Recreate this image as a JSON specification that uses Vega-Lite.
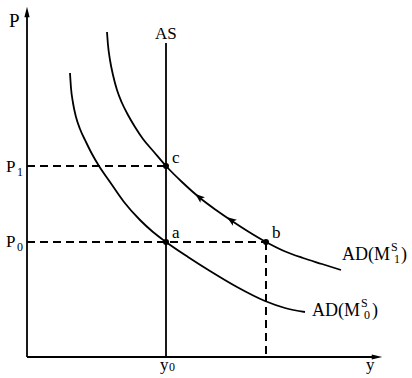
{
  "$schema": "https://vega.github.io/schema/vega-lite/v6.json",
  "width": 412,
  "height": 378,
  "padding": 0,
  "autosize": {"type": "fit", "contains": "padding"},
  "background": "white",
  "config": {"view": {"stroke": null}},
  "datasets": {
    "curves": [
      {"c": "AD1", "x": 80, "y": 325}, {"c": "AD1", "x": 81, "y": 312}, {"c": "AD1", "x": 83, "y": 297},
      {"c": "AD1", "x": 86, "y": 282}, {"c": "AD1", "x": 90, "y": 267}, {"c": "AD1", "x": 95, "y": 254},
      {"c": "AD1", "x": 101, "y": 242}, {"c": "AD1", "x": 108, "y": 230}, {"c": "AD1", "x": 116, "y": 218},
      {"c": "AD1", "x": 127, "y": 205}, {"c": "AD1", "x": 139, "y": 191}, {"c": "AD1", "x": 155, "y": 175},
      {"c": "AD1", "x": 173, "y": 159}, {"c": "AD1", "x": 189, "y": 147}, {"c": "AD1", "x": 205, "y": 136},
      {"c": "AD1", "x": 222, "y": 125}, {"c": "AD1", "x": 239, "y": 115}, {"c": "AD1", "x": 257, "y": 106},
      {"c": "AD1", "x": 276, "y": 99}, {"c": "AD1", "x": 295, "y": 93}, {"c": "AD1", "x": 314, "y": 87},
      {"c": "AD0", "x": 43, "y": 284}, {"c": "AD0", "x": 44, "y": 269}, {"c": "AD0", "x": 46, "y": 254},
      {"c": "AD0", "x": 49, "y": 240}, {"c": "AD0", "x": 53, "y": 228}, {"c": "AD0", "x": 59, "y": 215},
      {"c": "AD0", "x": 65, "y": 203}, {"c": "AD0", "x": 72, "y": 191}, {"c": "AD0", "x": 83, "y": 175},
      {"c": "AD0", "x": 97, "y": 155}, {"c": "AD0", "x": 113, "y": 137}, {"c": "AD0", "x": 126, "y": 125},
      {"c": "AD0", "x": 139, "y": 115}, {"c": "AD0", "x": 161, "y": 100}, {"c": "AD0", "x": 183, "y": 86},
      {"c": "AD0", "x": 210, "y": 70}, {"c": "AD0", "x": 238, "y": 56}, {"c": "AD0", "x": 258, "y": 49},
      {"c": "AD0", "x": 278, "y": 45}
    ],
    "solid": [
      {"x": 0, "y": 0, "x2": 0, "y2": 342},
      {"x": 0, "y": 0, "x2": 348, "y2": 0},
      {"x": 139, "y": 0, "x2": 139, "y2": 314}
    ],
    "dashed": [
      {"x": 0, "y": 191, "x2": 139, "y2": 191},
      {"x": 0, "y": 115, "x2": 239, "y2": 115},
      {"x": 239, "y": 115, "x2": 239, "y2": 0}
    ],
    "dots": [
      {"x": 139, "y": 191}, {"x": 139, "y": 115}, {"x": 239, "y": 115}
    ],
    "axisArrows": [
      {"x": 0, "y": 345, "a": 0},
      {"x": 350, "y": 0, "a": 90}
    ],
    "curveArrows": [
      {"x": 172, "y": 160, "a": 310},
      {"x": 204, "y": 137, "a": 305}
    ],
    "labels": [
      {"x": -18, "y": 330, "t": "P", "s": 19},
      {"x": 128, "y": 318, "t": "AS", "s": 17},
      {"x": -21, "y": 185, "t": "P", "s": 17},
      {"x": -10, "y": 181, "t": "1", "s": 12},
      {"x": -21, "y": 110, "t": "P", "s": 17},
      {"x": -10, "y": 106, "t": "0", "s": 12},
      {"x": 145, "y": 194, "t": "c", "s": 17},
      {"x": 145, "y": 119, "t": "a", "s": 17},
      {"x": 245, "y": 119, "t": "b", "s": 17},
      {"x": 133, "y": -13, "t": "y", "s": 17},
      {"x": 142, "y": -14, "t": "0", "s": 12},
      {"x": 339, "y": -13, "t": "y", "s": 17},
      {"x": 315, "y": 97, "t": "AD(M", "s": 18},
      {"x": 364, "y": 106, "t": "S", "s": 12},
      {"x": 367, "y": 94, "t": "1", "s": 12},
      {"x": 374, "y": 97, "t": ")", "s": 18},
      {"x": 285, "y": 41, "t": "AD(M", "s": 18},
      {"x": 334, "y": 50, "t": "S", "s": 12},
      {"x": 337, "y": 38, "t": "0", "s": 12},
      {"x": 345, "y": 41, "t": ")", "s": 18}
    ]
  },
  "encoding": {
    "x": {"field": "x", "type": "quantitative", "scale": {"domain": [-27, 385], "nice": false, "zero": false}, "axis": null},
    "y": {"field": "y", "type": "quantitative", "scale": {"domain": [-21, 357], "nice": false, "zero": false}, "axis": null}
  },
  "layer": [
    {
      "data": {"name": "curves"},
      "mark": {"type": "line", "color": "black", "strokeWidth": 1.8, "interpolate": "monotone"},
      "encoding": {"detail": {"field": "c", "type": "nominal"}}
    },
    {
      "data": {"name": "solid"},
      "mark": {"type": "rule", "color": "black", "strokeWidth": 1.8},
      "encoding": {"x2": {"field": "x2"}, "y2": {"field": "y2"}}
    },
    {
      "data": {"name": "dashed"},
      "mark": {"type": "rule", "color": "black", "strokeWidth": 2, "strokeDash": [8, 5]},
      "encoding": {"x2": {"field": "x2"}, "y2": {"field": "y2"}}
    },
    {
      "data": {"name": "dots"},
      "mark": {"type": "circle", "color": "black", "opacity": 1, "size": 36}
    },
    {
      "data": {"name": "axisArrows"},
      "mark": {"type": "point", "shape": "M0,-1L0.5,1L-0.5,1Z", "filled": true, "color": "black", "opacity": 1, "size": 110},
      "encoding": {"angle": {"field": "a", "type": "quantitative", "scale": null}}
    },
    {
      "data": {"name": "curveArrows"},
      "mark": {"type": "point", "shape": "M0,-1L0.75,1L0,0.55L-0.75,1Z", "filled": true, "color": "black", "opacity": 1, "size": 90},
      "encoding": {"angle": {"field": "a", "type": "quantitative", "scale": null}}
    },
    {
      "data": {"name": "labels"},
      "mark": {"type": "text", "align": "left", "baseline": "alphabetic", "font": "Liberation Serif", "color": "black"},
      "encoding": {
        "text": {"field": "t", "type": "nominal"},
        "size": {"field": "s", "type": "quantitative", "scale": null}
      }
    }
  ]
}
